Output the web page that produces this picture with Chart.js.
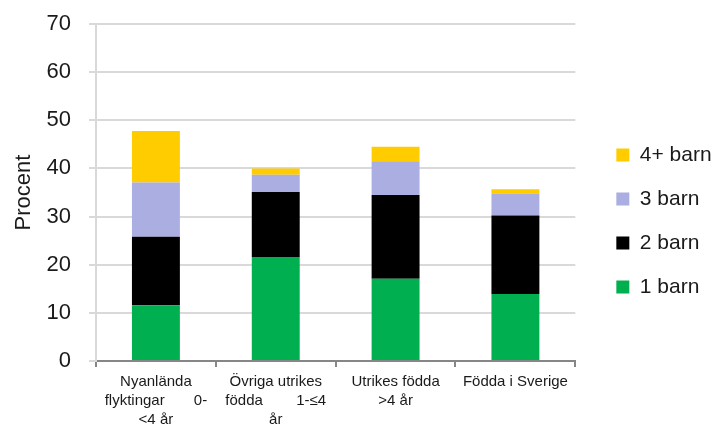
<!DOCTYPE html>
<html>
<head>
<meta charset="utf-8">
<script src="https://cdn.jsdelivr.net/npm/chart.js@4"></script>
<style>
  html, body { margin: 0; padding: 0; background: #fff; }
  #wrap { width: 718px; height: 425px; }
</style>
</head>
<body>
<div id="wrap"><canvas id="barnChart"></canvas></div>
<script>
// kategorier (x-axeln)
const groups = [
    ['Nyanlända', 'flyktingar       0-', '<4 år'],
    ['Övriga utrikes', 'födda        1-≤4', 'år'],
    ['Utrikes födda', '>4 år'],
    ['Födda i Sverige']
];

// andel i procent per antal barn
const barn1 = [11.6, 21.6, 17.1, 13.9];
const barn2 = [14.2, 13.5, 17.4, 16.3];
const barn3 = [11.3, 3.6, 7.0, 4.6];
const barn4 = [10.7, 1.3, 3.0, 0.9];

const yTicks = [0, 10, 20, 30, 40, 50, 60, 70];

const fontFam = "'Liberation Sans', Arial, sans-serif";
const textColor = '#1a1a1a';

const ctx = document.getElementById('barnChart').getContext('2d');

function ds(label, data, color) {
    return {
        label: label,
        data: data,
        backgroundColor: color,
        borderWidth: 0,
        categoryPercentage: 1.0,
        barPercentage: 0.4
    };
}

const barnChart = new Chart(ctx, {
    type: 'bar',
    data: {
        labels: groups,
        datasets: [
            ds('1 barn', barn1, '#00b050'),
            ds('2 barn', barn2, '#000000'),
            ds('3 barn', barn3, '#aaaee0'),
            ds('4+ barn', barn4, '#ffcc00')
        ]
    },
    options: {
        responsive: true,
        maintainAspectRatio: false,
        animation: false,
        layout: {
            padding: { top: 24, left: 0, right: 6, bottom: 0 }
        },
        plugins: {
            tooltip: { enabled: false },
            legend: {
                position: 'right',
                reverse: true,
                fullSize: false,
                // tom titel för att flytta ned förklaringen
                title: { display: true, text: '', padding: { top: 0, bottom: 46 }, font: { size: 8, lineHeight: 1.375 } },
                labels: {
                    boxWidth: 13,
                    boxHeight: 13,
                    padding: 23,
                    color: textColor,
                    font: { family: fontFam, size: 21 }
                }
            }
        },
        scales: {
            x: {
                stacked: true,
                afterFit: function(scale) {
                    scale.height = 64;
                    scale.paddingLeft = 0;
                    scale.paddingRight = 0;
                },
                grid: {
                    display: true,
                    offset: true,
                    drawOnChartArea: false,
                    drawTicks: true,
                    tickLength: 6,
                    color: '#868686',
                    lineWidth: 2
                },
                border: { color: '#868686', width: 2 },
                ticks: {
                    color: textColor,
                    maxRotation: 0,
                    autoSkip: false,
                    padding: 5,
                    font: { family: fontFam, size: 15, lineHeight: 1.267 }
                }
            },
            y: {
                stacked: true,
                min: 0,
                max: 70,
                afterBuildTicks: function(scale) {
                    scale.ticks = yTicks.map(v => ({ value: v }));
                },
                afterFit: function(scale) {
                    scale.width = 96;
                    scale.paddingTop = 0;
                    scale.paddingBottom = 0;
                },
                grid: {
                    color: '#d9d9d9',
                    lineWidth: 2,
                    tickLength: 7
                },
                border: { color: '#d9d9d9', width: 2 },
                ticks: {
                    color: textColor,
                    padding: 18,
                    font: { family: fontFam, size: 22 }
                },
                title: {
                    display: true,
                    text: 'Procent',
                    color: textColor,
                    padding: { top: 11, bottom: 0 },
                    font: { family: fontFam, size: 22 }
                }
            },
            // tomt utrymme mellan diagram och förklaring
            gap: {
                type: 'linear',
                position: 'right',
                display: true,
                grid: { display: false },
                border: { display: false },
                ticks: { display: false },
                afterFit: function(scale) {
                    scale.width = 18;
                    scale.paddingTop = 0;
                    scale.paddingBottom = 0;
                }
            }
        }
    }
});
</script>
</body>
</html>
